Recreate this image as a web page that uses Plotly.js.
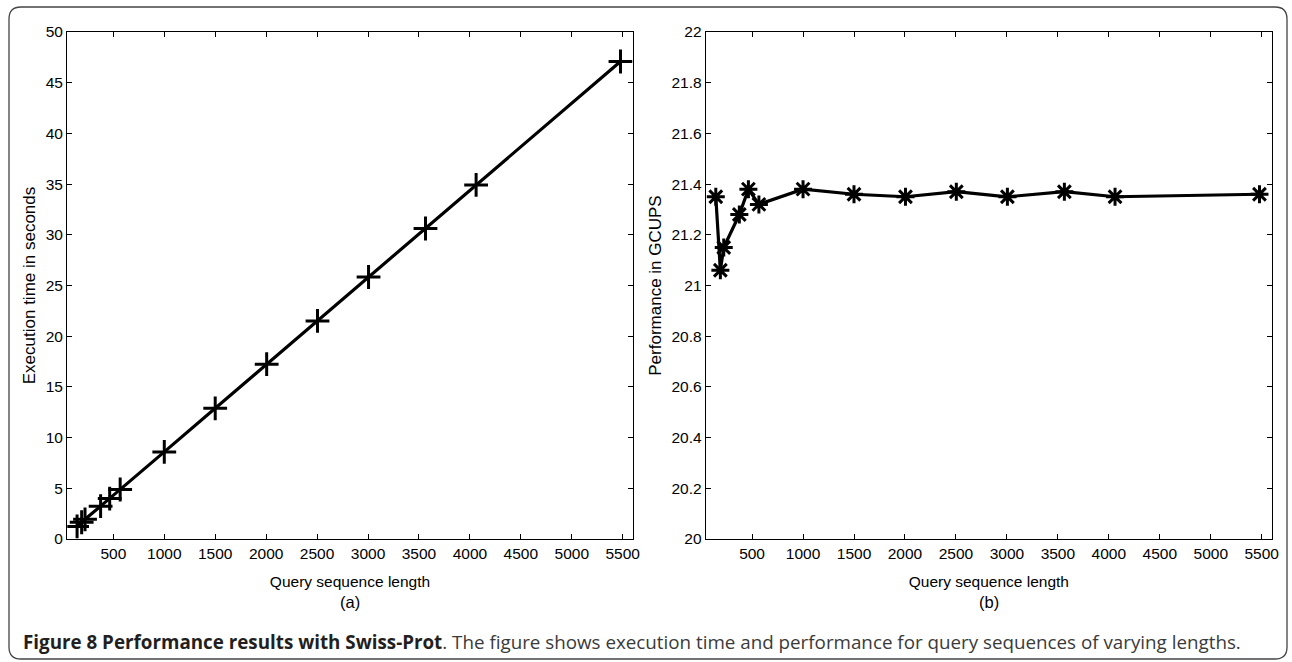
<!DOCTYPE html>
<html>
<head>
<meta charset="utf-8">
<script src="https://cdn.plot.ly/plotly-3.0.1.min.js"></script>
<style>
html,body{margin:0;padding:0;background:#fff;}
#chart{width:1292px;height:662px;}
</style>
</head>
<body>
<div id="chart"></div>
<script>
// ---- data ----
const queryLengths = [144, 189, 222, 375, 464, 567, 1000, 1500, 2005, 2504, 3005, 3564, 4061, 5478];
const execTimeSec = [1.24, 1.65, 1.94, 3.24, 3.99, 4.88, 8.59, 12.89, 17.24, 21.51, 25.84, 30.62, 34.92, 47.09];
const gcups = [21.35, 21.06, 21.15, 21.28, 21.38, 21.32, 21.38, 21.36, 21.35, 21.37, 21.35, 21.37, 21.35, 21.36];
const xTicks = [500, 1000, 1500, 2000, 2500, 3000, 3500, 4000, 4500, 5000, 5500];
const yTicksTime = [0, 5, 10, 15, 20, 25, 30, 35, 40, 45, 50];
const yTicksGcups = [20, 20.2, 20.4, 20.6, 20.8, 21, 21.2, 21.4, 21.6, 21.8, 22];
const yTickTextGcups = ["20", "20.2", "20.4", "20.6", "20.8", "21", "21.2", "21.4", "21.6", "21.8", "22"];

// ---- layout helpers (pixel -> paper) ----
const W = 1292, H = 662;
const px = v => v / W;
const py = v => 1 - v / H;

const fam = "Liberation Sans, Arial, sans-serif";
const tickFont = {family: fam, size: 15.5, color: "#000"};
const xTitleFont = {family: fam, size: 15.5, color: "#000"};
const yTitleFont = {family: fam, size: 17, color: "#000"};

function xAxis(dom, anchor) {
  return {
    domain: dom, anchor: anchor, range: [48, 5598],
    tickvals: xTicks, ticktext: xTicks.map(String),
    ticks: "inside", ticklen: 5, tickwidth: 1, tickcolor: "#000",
    showline: true, linecolor: "#000", linewidth: 1.3, mirror: "ticks",
    showgrid: false, zeroline: false, tickfont: tickFont,
    title: {text: "Query sequence length", font: xTitleFont, standoff: 15}
  };
}
function yAxis(dom, anchor, range, vals, text, title) {
  return {
    domain: dom, anchor: anchor, range: range,
    tickvals: vals, ticktext: text,
    ticks: "inside", ticklen: 5, tickwidth: 1, tickcolor: "#000",
    showline: true, linecolor: "#000", linewidth: 1.3, mirror: "ticks",
    showgrid: false, zeroline: false, tickfont: tickFont,
    title: {text: title, font: yTitleFont, standoff: 5}
  };
}

const yDom = [py(539), py(32)];

const traces = [
  {
    x: queryLengths, y: execTimeSec, xaxis: "x", yaxis: "y",
    type: "scatter", mode: "lines+markers",
    line: {color: "#000", width: 3.2},
    marker: {symbol: "cross-thin", size: 17, color: "#000", line: {color: "#000", width: 3}},
    showlegend: false
  },
  {
    x: queryLengths, y: gcups, xaxis: "x2", yaxis: "y2",
    type: "scatter", mode: "lines+markers",
    line: {color: "#000", width: 3.2},
    marker: {symbol: "asterisk-open", size: 15, color: "#000", line: {color: "#000", width: 3}},
    showlegend: false
  }
];

// rounded frame
const fx0 = 9, fy0 = 7, fx1 = 1287, fy1 = 659, r = 12;
const framePath =
  `M ${px(fx0)},${py(fy0 + r)} ` +
  `Q ${px(fx0)},${py(fy0)} ${px(fx0 + r)},${py(fy0)} ` +
  `L ${px(fx1 - r)},${py(fy0)} ` +
  `Q ${px(fx1)},${py(fy0)} ${px(fx1)},${py(fy0 + r)} ` +
  `L ${px(fx1)},${py(fy1 - r)} ` +
  `Q ${px(fx1)},${py(fy1)} ${px(fx1 - r)},${py(fy1)} ` +
  `L ${px(fx0 + r)},${py(fy1)} ` +
  `Q ${px(fx0)},${py(fy1)} ${px(fx0)},${py(fy1 - r)} Z`;

const layout = {
  width: W, height: H,
  margin: {l: 0, r: 0, t: 0, b: 0},
  paper_bgcolor: "#fff", plot_bgcolor: "#fff",
  xaxis: xAxis([px(67.3), px(632.7)], "y"),
  yaxis: yAxis(yDom, "x", [0, 50], yTicksTime, yTicksTime.map(String), "Execution time in seconds"),
  xaxis2: xAxis([px(706), px(1271.7)], "y2"),
  yaxis2: yAxis(yDom, "x2", [20, 22], yTicksGcups, yTickTextGcups, "Performance in GCUPS"),
  shapes: [
    {type: "path", xref: "paper", yref: "paper", path: framePath,
     line: {color: "#444", width: 1.3}, fillcolor: "rgba(0,0,0,0)"}
  ],
  annotations: [
    {xref: "paper", yref: "paper", x: px(350), y: py(602), text: "(a)", showarrow: false,
     font: {family: fam, size: 16.5, color: "#000"}, xanchor: "center", yanchor: "middle"},
    {xref: "paper", yref: "paper", x: px(989), y: py(602), text: "(b)", showarrow: false,
     font: {family: fam, size: 16.5, color: "#000"}, xanchor: "center", yanchor: "middle"},
    {xref: "paper", yref: "paper", x: px(21), y: py(642), xanchor: "left", yanchor: "middle",
     showarrow: false, align: "left",
     font: {family: "Open Sans, Noto Sans, sans-serif", size: 18.8, color: "#3a3a3a"},
     text: "<b><span style='color:#231f20'>Figure 8 Performance results with Swiss-Prot</span></b>. The figure shows execution time and performance for query sequences of varying lengths."}
  ]
};

Plotly.newPlot("chart", traces, layout, {staticPlot: true, displayModeBar: false});
</script>
</body>
</html>
